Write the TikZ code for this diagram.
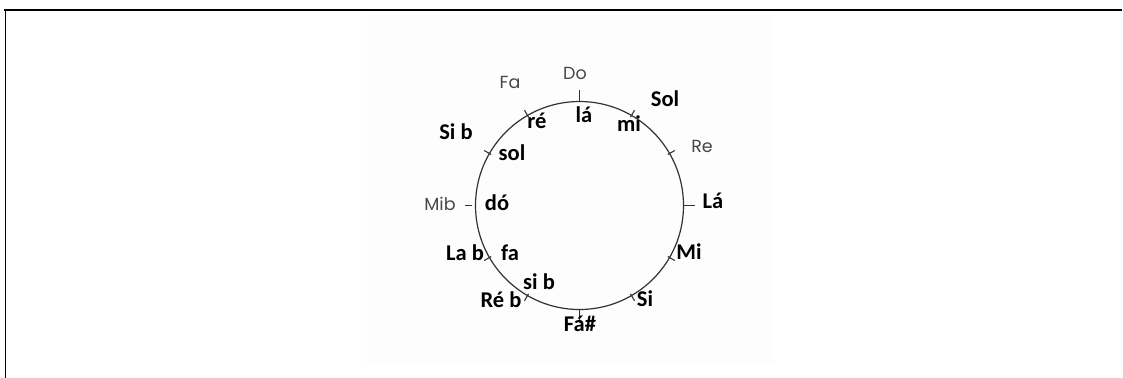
\documentclass[tikz,border=0pt]{standalone}
\usepackage{fontspec}
\setmainfont{Carlito}
\newfontfamily\thinsans{Poppins}
\usetikzlibrary{calc}
\begin{document}
\begin{tikzpicture}[x=1bp,y=-1bp,
  bold label/.style={font=\fontsize{22.5bp}{24bp}\selectfont\bfseries, inner sep=0pt,
    text height=0.66em, text depth=0pt, anchor=center},
  thin label/.style={font=\thinsans\fontsize{17.5bp}{20bp}\selectfont, text=black!72,
    inner sep=0pt, text height=0.7em, text depth=0pt, anchor=center},
  tickmark/.style={draw=black!80, line width=1.1bp},
  frameline/.style={draw=black, line cap=rect}]
\useasboundingbox (0,0) rectangle (1123,377);
% faint backdrop behind the wheel
\fill[black!0.8] (367,14) rectangle (774,365);
% page frame (top and left only)
\draw[frameline, line width=2.4bp] (5.5,10) -- (1121,10);
\draw[frameline, line width=1.3bp] (5.5,10) -- (5.5,377);

% the wheel
\node[circle, draw=black!80, line width=1.2bp, minimum size=208bp, inner sep=0pt] (wheel) at (579.5,205.5) {};

% long ticks on the four cardinal points
\foreach \ang/\rin/\rout in {90/104/115.5, 0/104/115.5, -90/104/117, 180/107.5/114.5}{
  \draw[tickmark] ($(wheel.center)!\rin bp!(wheel.\ang)$) -- ($(wheel.center)!\rout bp!(wheel.\ang)$);
}
% short ticks at the remaining twelfths
\foreach \ang in {60,30,-30,-60,-120,-150,150,120}{
  \draw[tickmark] ($(wheel.center)!102bp!(wheel.\ang)$) -- ($(wheel.center)!110bp!(wheel.\ang)$);
}

% outer keys
\node[thin label] (do)  at (575,76)  {Do};
\node[thin label] (fa)  at (510,85)  {Fa};
\node[thin label] (re)  at (702,149) {Re};
\node[thin label] (mib) at (440,207) {Mib};
\node[bold label] (sol) at (665,103) {Sol};
\node[bold label] (la)  at (713,205) {Lá};
\node[bold label] (mi)  at (689,256) {Mi};
\node[bold label] (si)  at (645,303) {Si};
\node[bold label] (fas) at (580,328) {Fá\#};
\node[bold label] (reb) at (501,304) {Ré b};
\node[bold label] (lab) at (465,257) {La b};
\node[bold label] (sib) at (456,136) {Si b};

% inner relative minors
\node[bold label] (lam)  at (584,119) {lá};
\node[bold label] (mim)  at (629,128) {mi};
\node[bold label] (rem)  at (537,125) {ré};
\node[bold label] (solm) at (512,157) {sol};
\node[bold label] (dom)  at (497,207) {dó};
\node[bold label] (fam)  at (510,257) {fa};
\node[bold label] (sibm) at (539,286) {si b};
\end{tikzpicture}
\end{document}
